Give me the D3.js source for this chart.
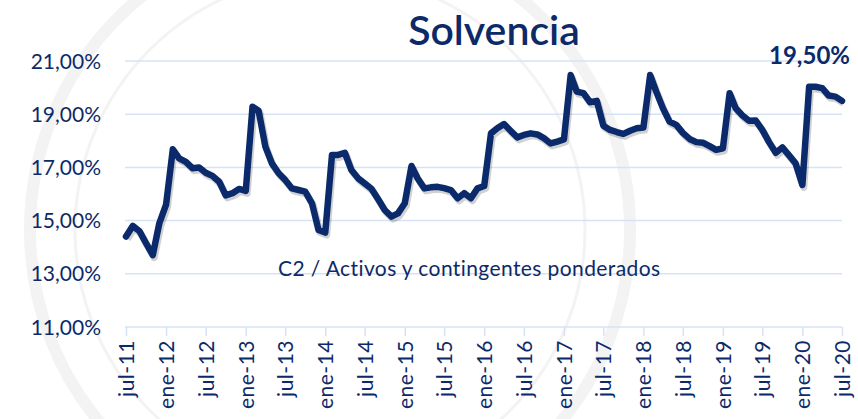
<!DOCTYPE html>
<html>
  <head>
    <meta charset="UTF-8">
    <script src="https://d3js.org/d3.v7.min.js"></script>
    <style>
      body {
        margin: 0;
        background: #fff;
        font-family: Lato, "Open Sans", sans-serif;
      }
      svg text {
        fill: #0d2a68;
      }
    </style>
  </head>
  <body>
    <svg width="858" height="419"></svg>
    <script>
      // monthly solvency ratio, jul-11 .. jul-20 (%)
      const values = [
        14.4, 14.8, 14.6, 14.15, 13.7, 14.9,
        15.6, 17.68, 17.34, 17.21, 16.97, 17.0,
        16.8, 16.68, 16.46, 15.95, 16.03, 16.19,
        16.12, 19.28, 19.13, 17.78, 17.15, 16.78,
        16.53, 16.21, 16.15, 16.09, 15.65, 14.65,
        14.55, 17.47, 17.47, 17.55, 16.9, 16.59,
        16.4, 16.2, 15.8, 15.4, 15.15, 15.27,
        15.65, 17.05, 16.59, 16.21, 16.25, 16.27,
        16.22, 16.15, 15.84, 16.03, 15.84, 16.21,
        16.3, 18.28, 18.47, 18.63, 18.38, 18.13,
        18.22, 18.28, 18.24, 18.1, 17.9, 17.97,
        18.05, 20.47, 19.85, 19.79, 19.45, 19.5,
        18.57, 18.41, 18.33, 18.26, 18.38, 18.47,
        18.5, 20.47, 19.85, 19.22, 18.72, 18.6,
        18.3, 18.07, 17.95, 17.93, 17.8, 17.66,
        17.72, 19.79, 19.22, 18.95, 18.75, 18.76,
        18.41, 17.95, 17.55, 17.75, 17.45, 17.15,
        16.34, 20.03, 20.03, 19.98, 19.7, 19.66,
        19.5
      ];
      const yTicks = [11, 13, 15, 17, 19, 21];
      const monthNames = ["ene", "feb", "mar", "abr", "may", "jun", "jul", "ago", "sep", "oct", "nov", "dic"];
      const title = "Solvencia";
      const note = "C2 / Activos y contingentes ponderados";
      const lastLabel = "19,50%";

      const data = values.map((v, i) => ({ date: new Date(2011, 6 + i, 1), value: v }));
      const xTicks = data.filter((d, i) => i % 6 === 0).map((d) => d.date);

      const svg = d3.select("svg");

      const x = d3.scaleTime()
        .domain([data[0].date, data[data.length - 1].date])
        .range([126, 842]);
      const y = d3.scaleLinear()
        .domain([11, 21])
        .range([327, 61]);

      const grid = "#d6e3f6";

      // faint background seal
      const seal = svg.append("g").attr("fill", "none").attr("stroke", "#f3f3f3");
      seal.append("circle").attr("cx", 330).attr("cy", 230).attr("r", 300).attr("stroke-width", 12);
      seal.append("circle").attr("cx", 330).attr("cy", 230).attr("r", 255).attr("stroke-width", 3);

      // gridlines
      svg.append("g")
        .selectAll("line")
        .data(yTicks.slice(1))
        .join("line")
        .attr("x1", 125)
        .attr("x2", 842)
        .attr("y1", (d) => y(d))
        .attr("y2", (d) => y(d))
        .attr("stroke", grid)
        .attr("stroke-width", 1.5);

      // y labels
      svg.append("g")
        .selectAll("text")
        .data(yTicks)
        .join("text")
        .attr("x", 101)
        .attr("y", (d) => y(d))
        .attr("dy", "0.36em")
        .attr("text-anchor", "end")
        .style("font-size", "21px")
        .text((d) => d3.format(".2f")(d).replace(".", ",") + "%");

      // x axis
      const xAxis = svg.append("g")
        .attr("transform", `translate(0,${y(11)})`)
        .call(d3.axisBottom(x)
          .tickValues(xTicks)
          .tickSize(9)
          .tickPadding(5)
          .tickFormat((d) => monthNames[d.getMonth()] + "-" + String(d.getFullYear()).slice(2)));
      xAxis.select(".domain").attr("stroke", grid).attr("stroke-width", 1.5).attr("d", `M125,0H842`);
      xAxis.selectAll(".tick line").attr("stroke", grid).attr("stroke-width", 1.5);
      xAxis.selectAll(".tick text")
        .attr("transform", "rotate(-90)")
        .attr("x", -13)
        .attr("y", 0)
        .attr("dy", "0.35em")
        .attr("text-anchor", "end")
        .style("font-size", "21px")
        .style("letter-spacing", "0.5px")
        .style("font-family", "Lato, 'Open Sans', sans-serif")
        .attr("fill", "#0d2a68");

      const line = d3.line()
        .x((d) => x(d.date))
        .y((d) => y(d.value));

      // shadow
      svg.append("path")
        .datum(data)
        .attr("fill", "none")
        .attr("stroke", "#000")
        .attr("stroke-opacity", 0.18)
        .attr("stroke-width", 7)
        .attr("stroke-linejoin", "round")
        .attr("transform", "translate(1.5,2.5)")
        .attr("d", line);

      svg.append("path")
        .datum(data)
        .attr("fill", "none")
        .attr("stroke", "#0b2a6c")
        .attr("stroke-width", 6.5)
        .attr("stroke-linejoin", "round")
        .attr("stroke-linecap", "round")
        .attr("d", line);

      svg.append("text")
        .attr("x", 494)
        .attr("y", 45)
        .attr("text-anchor", "middle")
        .style("font-size", "41px")
        .style("font-weight", "600")
        .text(title);

      svg.append("text")
        .attr("x", 278)
        .attr("y", 276)
        .style("font-size", "21px")
        .style("letter-spacing", "0.4px")
        .text(note);

      svg.append("text")
        .attr("x", 850)
        .attr("y", 64)
        .attr("text-anchor", "end")
        .style("font-size", "24px")
        .style("font-weight", "bold")
        .text(lastLabel);
    </script>
  </body>
</html>
